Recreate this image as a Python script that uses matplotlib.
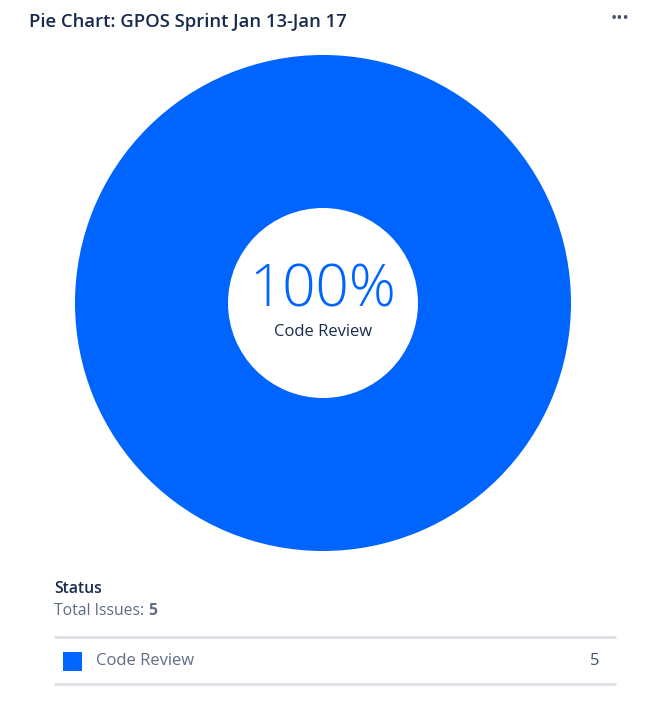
import matplotlib.pyplot as plt

statuses = ['Code Review']
counts = [5]
title = 'Pie Chart: GPOS Sprint Jan 13-Jan 17'
colors = ['#0065FF']

plt.rcParams['font.family'] = ['Open Sans', 'DejaVu Sans']

W, H = 658, 707
fig = plt.figure(figsize=(W / 100, H / 100), dpi=100)

# donut, placed in pixel units
cx, cy, r = 323, 303, 248
ax = fig.add_axes([(cx - r) / W, 1 - (cy + r) / H, 2 * r / W, 2 * r / H])
ax.pie(counts, colors=colors, radius=1, startangle=90, counterclock=False,
       wedgeprops=dict(width=1 - 95 / 248, linewidth=0))
ax.set_xlim(-1, 1)
ax.set_ylim(-1, 1)
ax.set_aspect('equal')
ax.axis('off')

total = sum(counts)
pct = counts[0] / total * 100
ax.text(0, 0.05, f'{pct:.0f}%', ha='center', va='center', fontsize=42,
        color='#0065FF', fontweight='light')
ax.text(0, -0.115, statuses[0], ha='center', va='center', fontsize=12,
        color='#172B4D')

# overlay axes in pixel coords for text/legend
ov = fig.add_axes([0, 0, 1, 1])
ov.set_xlim(0, W)
ov.set_ylim(H, 0)
ov.axis('off')

ov.text(29, 22, title, ha='left', va='center', fontsize=13.3,
        fontweight='semibold', color='#172B4D')
ov.text(620, 19, '•••', ha='center', va='center', fontsize=12, color='#42526E')

ov.text(54, 589, 'Status', ha='left', va='center', fontsize=11.3,
        fontweight='semibold', color='#172B4D')
t = ov.text(54, 611, 'Total Issues: ', ha='left', va='center', fontsize=11.3,
            color='#5E6C84')
ov.annotate(str(total), xycoords=t, xy=(1, 0.5), va='center', ha='left',
            fontsize=11.3, fontweight='bold', color='#5E6C84')

ov.plot([54, 616], [637, 637], color='#DFE1E6', lw=2.2, solid_capstyle='butt')
ov.plot([54, 616], [684, 684], color='#DFE1E6', lw=2.2, solid_capstyle='butt')

for i, (s, c) in enumerate(zip(statuses, counts)):
    y = 661 + i * 47
    ov.add_patch(plt.Rectangle((63, y - 9.5), 19, 19, color=colors[i], lw=0))
    ov.text(96, y, s, ha='left', va='center', fontsize=12, color='#5E6C84')
    ov.text(599, y, str(c), ha='right', va='center', fontsize=12,
            color='#42526E')

fig.savefig('out.png', dpi=100)
